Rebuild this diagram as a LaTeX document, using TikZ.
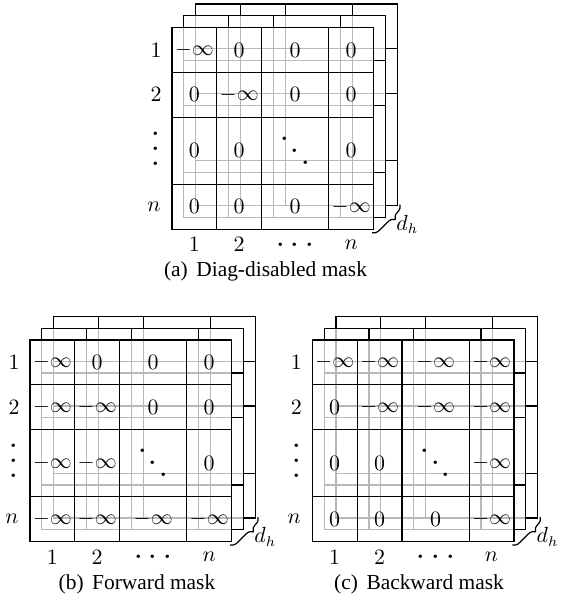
\documentclass[tikz,border=0pt]{standalone}
\usepackage{fontspec}
\newfontfamily\capfont{Liberation Serif}
\usetikzlibrary{decorations.pathreplacing}
\newcommand{\mfont}{\fontsize{10.7}{12.8}\selectfont}
\newcommand{\dotfont}{\fontsize{21}{21}\selectfont}
\newcommand{\ninf}{$-\infty$}
\newcommand{\mhdots}{{\dotfont\raisebox{-1pt}{.\kern2.2pt.\kern2.2pt.}}}
\newcommand{\mvdots}{{\dotfont\vbox{\baselineskip7.6pt\lineskiplimit-20pt\hbox{.}\hbox{.}\hbox{.}}}}
\newcommand{\mddots}{{\dotfont\raisebox{12pt}{.}\kern0pt\raisebox{6pt}{.}\kern0pt.}}
\newcommand{\mgrid}[3]{%
  \draw[#3] (#1,#2) rectangle ++(201.6,201.6);
  \foreach \gpos in {44.8,89.6,156.8}{%
    \draw[#3] ({#1+\gpos},#2) -- ++(0,201.6);
    \draw[#3] (#1,{#2+\gpos}) -- ++(201.6,0);}}
\newcommand{\maskframe}[1]{%
  \mgrid{23.6}{-23.6}{gridline}
  \fill[white] (11.8,-11.8) rectangle ++(201.6,201.6);
  \begin{scope}\clip (11.8,-11.8) rectangle ++(201.6,201.6);\mgrid{23.6}{-23.6}{backline}\end{scope}
  \mgrid{11.8}{-11.8}{gridline}
  \fill[white] (0,0) rectangle ++(201.6,201.6);
  \begin{scope}\clip (0,0) rectangle ++(201.6,201.6);\mgrid{23.6}{-23.6}{backline}\mgrid{11.8}{-11.8}{backline}\end{scope}
  \mgrid{0}{0}{gridline}
  \node[lab] (#1-r1) at (-16,22.4) {$1$};
  \node[lab] (#1-r2) at (-16,67.2) {$2$};
  \node[lab] (#1-r3) at (-16,121) {\mvdots};
  \node[lab] (#1-r4) at (-18,179.2) {$n$};
  \node[lab] (#1-c1) at (22.4,217) {$1$};
  \node[lab] (#1-c2) at (67.2,217) {$2$};
  \node[lab] (#1-c3) at (123.2,217) {\mhdots};
  \node[lab] (#1-c4) at (179.2,217) {$n$};
  \coordinate (#1-bt) at (228,177);
  \coordinate (#1-bb) at (200,205);
  \draw[gridline, decorate, decoration={brace, amplitude=3.5pt, aspect=0.35}] (#1-bt) -- (#1-bb);
  \node[lab, anchor=west] (#1-dh) at (224,197) {$d_h$};
}
\newcommand{\mrow}[7]{%
  \node[cell] (#1-#2-1) at (22.4,#3) {#4};
  \node[cell] (#1-#2-2) at (67.2,#3) {#5};
  \node[cell] (#1-#2-3) at (123.2,#3) {#6};
  \node[cell] (#1-#2-4) at (179.2,#3) {#7};}
\tikzset{
  gridline/.style={black, line width=0.6pt},
  backline/.style={black!28, line width=0.6pt},
  cell/.style={inner sep=0pt, font=\mfont},
  lab/.style={inner sep=0pt, font=\mfont},
  captext/.style={inner sep=0pt, font=\capfont\mfont}
}
\begin{document}
\begin{tikzpicture}[x=0.5pt, y=-0.5pt]
\useasboundingbox (0,0) rectangle (561,608);
\begin{scope}[shift={(172,27.7)}]
  \maskframe{A}
  \mrow{A}{1}{22.4}{\ninf}{$0$}{$0$}{$0$}
  \mrow{A}{2}{67.2}{$0$}{\ninf}{$0$}{$0$}
  \mrow{A}{3}{123.2}{$0$}{$0$}{\mddots}{$0$}
  \mrow{A}{4}{179.2}{$0$}{$0$}{$0$}{\ninf}
\end{scope}
\begin{scope}[shift={(30,340)}]
  \maskframe{B}
  \mrow{B}{1}{22.4}{\ninf}{$0$}{$0$}{$0$}
  \mrow{B}{2}{67.2}{\ninf}{\ninf}{$0$}{$0$}
  \mrow{B}{3}{123.2}{\ninf}{\ninf}{\mddots}{$0$}
  \mrow{B}{4}{179.2}{\ninf}{\ninf}{\ninf}{\ninf}
\end{scope}
\begin{scope}[shift={(312.3,340)}]
  \maskframe{C}
  \mrow{C}{1}{22.4}{\ninf}{\ninf}{\ninf}{\ninf}
  \mrow{C}{2}{67.2}{$0$}{\ninf}{\ninf}{\ninf}
  \mrow{C}{3}{123.2}{$0$}{$0$}{\mddots}{\ninf}
  \mrow{C}{4}{179.2}{$0$}{$0$}{$0$}{\ninf}
\end{scope}
\node[captext, anchor=base] (capa) at (265.5,277) {(a)\hspace{.4em}Diag-disabled mask};
\node[captext, anchor=base] (capb) at (137,589) {(b)\hspace{.4em}Forward mask};
\node[captext, anchor=base] (capc) at (419,589) {(c)\hspace{.4em}Backward mask};
\end{tikzpicture}
\end{document}
